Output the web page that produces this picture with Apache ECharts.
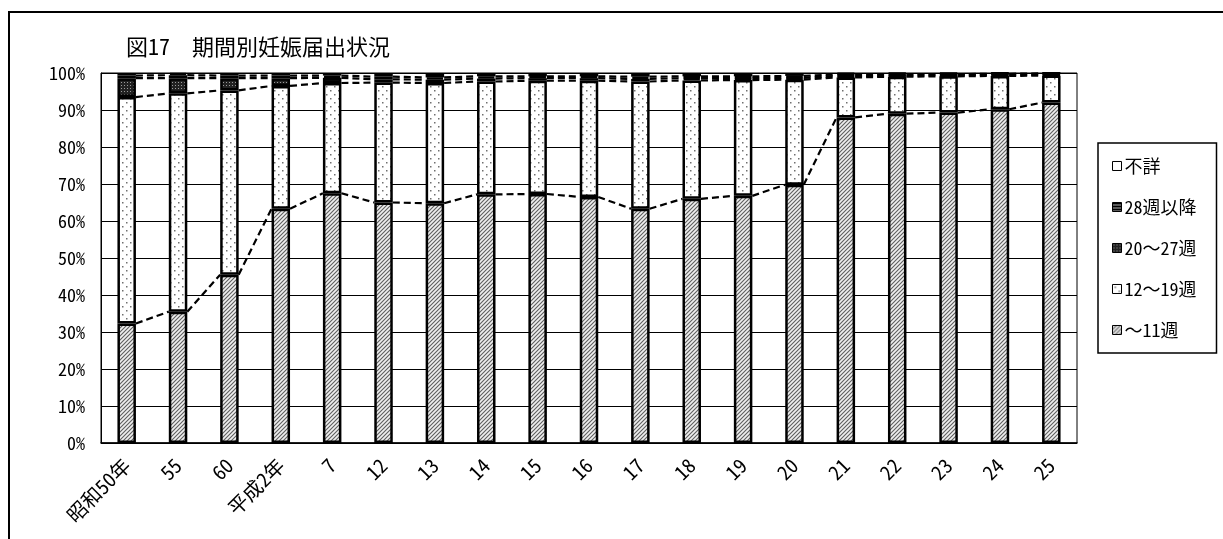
<!DOCTYPE html>
<html><head><meta charset="utf-8">
<script src="https://cdn.jsdelivr.net/npm/echarts@6/dist/echarts.min.js"></script>
<style>html,body{margin:0;padding:0;background:#fff}#c{width:1223px;height:539px}</style>
</head><body><div id="c"></div>
<script>
// ---- data ----
const categories = ['昭和50年','55','60','平成2年','7','12','13','14','15','16','17','18','19','20','21','22','23','24','25'];
const w11   = [32.3,35.5,45.5,63.3,67.5,65.0,64.8,67.2,67.3,66.5,63.3,66.0,66.8,69.8,88.0,89.0,89.3,90.2,92.0];
const w12_19= [61.2,59.0,49.8,33.2,29.8,32.4,32.5,30.5,30.6,31.4,34.4,32.0,31.3,28.4,10.8,10.0,9.8,9.0,7.3];
const w20_27= [5.1,4.1,3.3,2.1,1.4,0.9,0.9,0.8,0.7,0.7,0.7,0.6,0.5,0.5,0.4,0.3,0.3,0.3,0.3];
const w28   = [0.7,0.8,0.7,0.7,0.6,0.7,0.6,0.6,0.5,0.5,0.6,0.5,0.5,0.5,0.4,0.4,0.3,0.3,0.3];
const unknown = categories.map((c,i)=>+(100-w11[i]-w12_19[i]-w20_27[i]-w28[i]).toFixed(1));
const seriesNames = ['〜11週','12〜19週','20〜27週','28週以降','不詳'];
const yTicks = [0,10,20,30,40,50,60,70,80,90,100];

// ---- patterns ----
function pat(size, draw){const c=document.createElement('canvas');c.width=c.height=size;const x=c.getContext('2d');draw(x,size);return {image:c,repeat:'repeat'};}
const hatch = pat(4,(x,s)=>{x.fillStyle='#efefef';x.fillRect(0,0,s,s);x.strokeStyle='#5e5e5e';x.lineWidth=1.1;
  x.beginPath();x.moveTo(0,s);x.lineTo(s,0);x.moveTo(-1,1);x.lineTo(1,-1);x.moveTo(s-1,s+1);x.lineTo(s+1,s-1);x.stroke();});
const dots = pat(8,(x,s)=>{x.fillStyle='#fff';x.fillRect(0,0,s,s);x.fillStyle='#707070';x.fillRect(2,2,1.5,1.5);x.fillRect(6,6,1.5,1.5);});
const dark = pat(3,(x,s)=>{x.fillStyle='#222';x.fillRect(0,0,s,s);x.fillStyle='#9a9a9a';x.fillRect(1,1,1,1);});
const lines = pat(3,(x,s)=>{x.fillStyle='#000';x.fillRect(0,0,s,s);x.fillStyle='#fff';x.fillRect(0,2,s,0.7);});
const fills = [hatch,dots,dark,lines,'#fff'];
const values = [w11,w12_19,w20_27,w28,unknown];

// cumulative levels for series lines
const levels = [];
let acc = categories.map(()=>0);
for (let k=0;k<4;k++){acc = acc.map((a,i)=>a+values[k][i]); levels.push(acc.slice());}
const BAR_RATIO = 0.36;

const FONT = "'Noto Sans Mono CJK JP','Noto Sans CJK JP',sans-serif";
const chart = echarts.init(document.getElementById('c'));
const barSeries = seriesNames.map((n,k)=>({
  name:n, type:'bar', stack:'all', barWidth:(BAR_RATIO*100)+'%', data:values[k],
  itemStyle:{color:fills[k], borderColor:'#000', borderWidth:2.5}, z:3, animation:false
}));
chart.setOption({
  animation:false,
  textStyle:{fontFamily:FONT},
  title:{text:'図17　期間別妊娠届出状況', left:121, top:31, textStyle:{fontFamily:FONT,fontSize:22,fontWeight:'normal',color:'#000'}},
  graphic:[{type:'rect', shape:{x:9,y:12,width:1400,height:700}, style:{fill:'none',stroke:'#000',lineWidth:2}, z:100}],
  legend:{
    orient:'vertical', left:1098, top:143, padding:[14,20,14,14], itemGap:23,
    itemWidth:9, itemHeight:9, icon:'rect',
    itemStyle:{borderWidth:1, borderColor:'#000'},
    borderColor:'#000', borderWidth:1.5,
    textStyle:{fontFamily:FONT, fontSize:18, color:'#000', padding:[0,0,0,-2]},
    data:['不詳','28週以降','20〜27週','12〜19週','〜11週']
  },
  grid:{left:101, right:146, top:73, bottom:96, show:true, borderColor:'#000', borderWidth:1},
  xAxis:{type:'category', data:categories,
    axisLine:{lineStyle:{color:'#000',width:1.5}},
    axisTick:{inside:true,length:5,lineStyle:{color:'#000'}},
    axisLabel:{rotate:45, margin:19, fontFamily:FONT, fontSize:20, color:'#000', interval:0}},
  yAxis:{type:'value', min:yTicks[0], max:yTicks[yTicks.length-1], interval:10,
    axisLine:{show:true,lineStyle:{color:'#000'}}, axisTick:{show:false},
    splitLine:{lineStyle:{color:'#000',width:1}},
    axisLabel:{formatter:'{value}%', margin:16, fontFamily:FONT, fontSize:18, color:'#000'}},
  series:[...barSeries, {
    type:'custom', silent:true, z:4,
    data:categories.slice(0,-1).map((c,i)=>[i,0]),
    encode:{x:0,y:1},
    renderItem:(params,api)=>{
      const i = params.dataIndex;
      const hw = api.size([1,0])[0]*BAR_RATIO/2;
      return {type:'group', children: levels.map(lv=>{
        const p1 = api.coord([i, lv[i]]), p2 = api.coord([i+1, lv[i+1]]);
        return {type:'line', shape:{x1:p1[0]+hw,y1:p1[1],x2:p2[0]-hw,y2:p2[1]},
          style:{stroke:'#000',lineWidth:2.2,lineDash:[7,4]}};
      })};
    }
  }]
});
</script></body></html>
